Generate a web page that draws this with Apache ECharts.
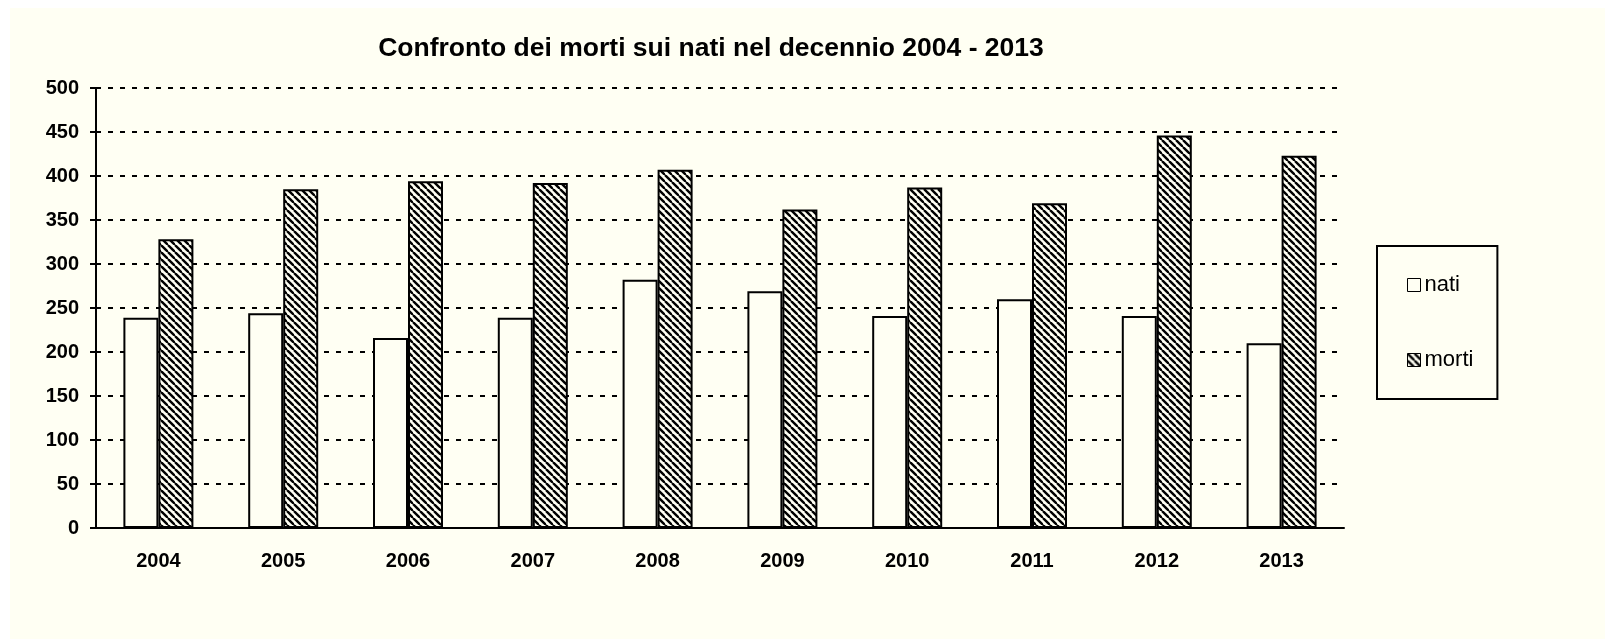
<!DOCTYPE html>
<html>
<head>
<meta charset="utf-8">
<title>Confronto dei morti sui nati</title>
<script src="https://cdn.jsdelivr.net/npm/echarts@6/dist/echarts.min.js"></script>
<style>
	html, body { margin: 0; padding: 0; background: #ffffff; }
	#chart { width: 1605px; height: 639px; }
</style>
</head>
<body>
<div id="chart"></div>
<script>
// dati
let anni = ['2004', '2005', '2006', '2007', '2008', '2009', '2010', '2011', '2012', '2013'];
let nati = [239, 244, 216, 239, 282, 269, 241, 260, 241, 210];
let morti = [328, 385, 394, 392, 407, 362, 387, 369, 446, 423];
let tickY = [0, 500, 50];  // min, max, passo

(function() {
	let sfondo = '#FFFFF3';

	// tratteggio diagonale per la serie "morti"
	function tratteggio() {
		let s = 7;
		let c = document.createElement('canvas');
		c.width = s;
		c.height = s;
		let ctx = c.getContext('2d');
		ctx.fillStyle = sfondo;
		ctx.fillRect(0, 0, s, s);
		ctx.strokeStyle = '#000000';
		ctx.lineWidth = 2.4;
		for (let k = -1; k <= 1; k++) {
			ctx.beginPath();
			ctx.moveTo(k * s, 0);
			ctx.lineTo(k * s + s, s);
			ctx.stroke();
		}
		return c;
	}

	let myChart = echarts.init(document.getElementById('chart'));

	let option = {
		backgroundColor: '#ffffff',
		animation: false,
		graphic: [
			{
				type: 'rect',
				silent: true,
				z: -10,
				shape: { x: 10, y: 8, width: 1600, height: 640 },
				style: { fill: sfondo }
			}
		],
		title: {
			text: 'Confronto dei morti sui nati nel decennio 2004 - 2013',
			left: 706,
			textAlign: 'center',
			top: 30,
			textStyle: {
				fontFamily: 'Liberation Sans',
				fontWeight: 'bold',
				fontSize: 26.5,
				color: '#000000'
			}
		},
		legend: {
			orient: 'vertical',
			left: 1377,
			top: 246,
			padding: [28, 24, 28, 30],
			itemGap: 53,
			itemWidth: 13,
			itemHeight: 13,
			icon: 'rect',
			borderColor: '#000000',
			borderWidth: 2,
			itemStyle: { borderWidth: 1 },
			textStyle: {
				fontFamily: 'Liberation Sans',
				fontSize: 22,
				color: '#000000',
				padding: [0, 0, 0, -1]
			},
			data: ['nati', 'morti']
		},
		grid: {
			left: 96,
			right: 261,
			top: 88,
			bottom: 111,
			containLabel: false,
			outerBoundsMode: 'none'
		},
		xAxis: {
			type: 'category',
			data: anni,
			axisLine: { lineStyle: { color: '#000000', width: 2 } },
			axisTick: { length: 6, lineStyle: { color: '#000000', width: 2 } },
			axisLabel: {
				margin: 23,
				fontFamily: 'Liberation Sans',
				fontWeight: 'bold',
				fontSize: 20,
				color: '#000000'
			}
		},
		yAxis: {
			type: 'value',
			min: tickY[0],
			max: tickY[1],
			interval: tickY[2],
			axisLine: { show: true, lineStyle: { color: '#000000', width: 2 } },
			axisTick: { show: true, length: 6, lineStyle: { color: '#000000', width: 2 } },
			axisLabel: {
				margin: 17,
				fontFamily: 'Liberation Sans',
				fontWeight: 'bold',
				fontSize: 20,
				color: '#000000'
			},
			splitLine: {
				lineStyle: { color: '#000000', width: 2, type: [5, 7] }
			}
		},
		series: [
			{
				name: 'nati',
				type: 'bar',
				barWidth: 35,
				barGap: '0%',
				itemStyle: {
					color: sfondo,
					borderColor: '#000000',
					borderWidth: 2
				},
				data: nati
			},
			{
				name: 'morti',
				type: 'bar',
				barWidth: 35,
				barGap: '0%',
				itemStyle: {
					color: { image: tratteggio(), repeat: 'repeat' },
					borderColor: '#000000',
					borderWidth: 2
				},
				data: morti
			}
		]
	};

	myChart.setOption(option);

	window.addEventListener('resize', function() {
		myChart.resize();
	});
})();
</script>
</body>
</html>
